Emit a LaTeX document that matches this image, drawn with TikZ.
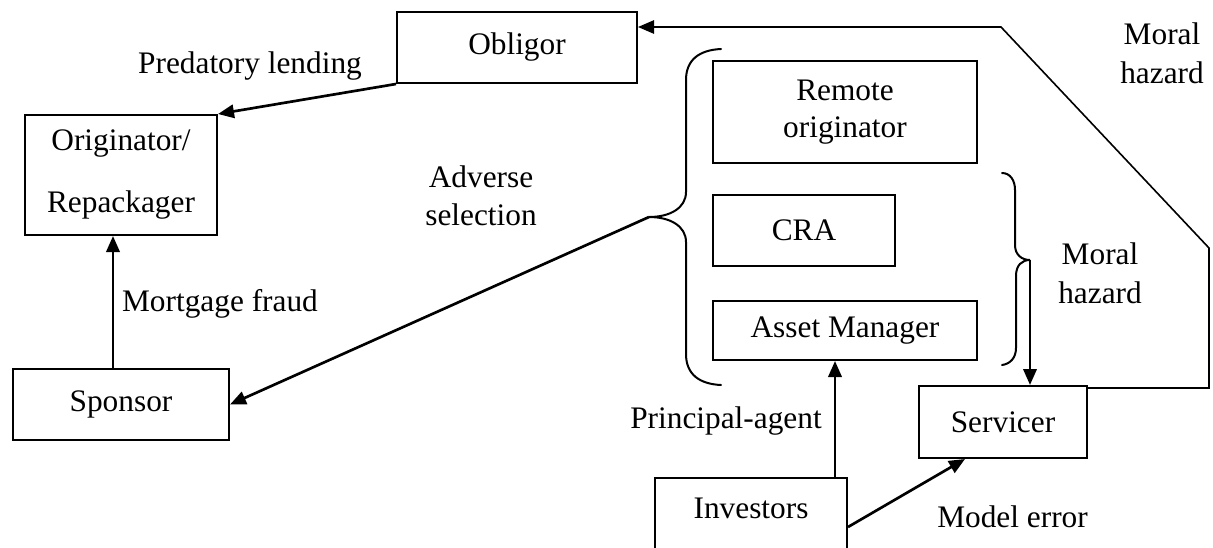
\documentclass[tikz,border=0pt]{standalone}
\usepackage{fontspec}
\setmainfont{Liberation Serif}
\usetikzlibrary{arrows.meta}
\begin{document}
\begin{tikzpicture}[x=0.75pt,y=-0.75pt,
  every node/.style={font=\fontsize{23.5}{28}\selectfont},
  box/.style={draw,line width=1.5pt,inner sep=0pt,align=center},
  lbl/.style={inner sep=0pt,anchor=base,align=center},
  arr/.style={line width=2pt,-{Triangle[length=12pt,width=10pt]}},
  link/.style={line width=1.2pt,-{Triangle[length=12pt,width=10pt]}},
  brace/.style={line width=1.5pt,line cap=round}]
\useasboundingbox (0,0) rectangle (1213,547);

% boxes
\node[box,minimum width=180pt,minimum height=53.25pt] (obligor) at (517,47.5) {Obligor};
\node[box,minimum width=144pt,minimum height=90pt] (orig) at (121,175) {Originator/\\[18.5pt]Repackager};
\node[box,minimum width=162pt,minimum height=53.25pt] (sponsor) at (121,404.5) {Sponsor};
\node[box,minimum width=198pt,minimum height=76.5pt] (remote) at (845,112) {\fontsize{23.5}{26.25}\selectfont Remote\\originator};
\node[box,minimum width=136.5pt,minimum height=53.25pt] (cra) at (804,230.5) {CRA};
\node[box,minimum width=198pt,minimum height=44.25pt] (asset) at (845,330.5) {Asset Manager};
\node[box,minimum width=126pt,minimum height=54pt] (servicer) at (1003,422) {Servicer};
\node[box,minimum width=144pt,minimum height=60pt,text depth=15pt,anchor=north] (investors) at (751,477) {Investors};

% braces grouping the agents
\coordinate (bigcusp) at (649,217);
\draw[brace] (721,49) .. controls (699,50) and (686,60) .. (686,80) -- (686,192)
  .. controls (686,208) and (670,217) .. (bigcusp)
  .. controls (670,217) and (686,226) .. (686,242) -- (686,354)
  .. controls (686,374) and (699,384) .. (721,385);
\coordinate (smallcusp) at (1030,260);
\draw[brace] (1002,173) .. controls (1010,173) and (1015,180) .. (1015,190) -- (1015,245)
  .. controls (1015,255) and (1022,260) .. (smallcusp)
  .. controls (1022,260) and (1016,265) .. (1016,276) -- (1016,348)
  .. controls (1016,358) and (1010,364) .. (1002,365);

% relations
\draw[arr] (obligor.south west) -- (orig.north east);
\draw[arr] ([xshift=-6pt]sponsor.north) -- ([xshift=-6pt]orig.south);
\draw[arr] (bigcusp) -- (sponsor.east);
\coordinate (pa) at (835,0);
\draw[arr] (investors.north -| pa) -- (asset.south -| pa);
\draw[arr] ([yshift=-6.75pt]investors.east) -- ([xshift=-28.5pt]servicer.south);
\draw[arr] (smallcusp) -- (servicer.north -| smallcusp);
\coordinate (rr) at (1209,388);
\coordinate (rb) at (1209,248);
\coordinate (rt) at (1001,27);
\draw[link] (rr -| servicer.east) -- (rr) -- (rb) -- (rt) -- (rt -| obligor.east);

% labels
\node[lbl] (l1) at (250,73) {Predatory lending};
\node[lbl] (l2) at (220,311) {Mortgage fraud};
\node[lbl] (l3) at (481,225) {Adverse\\[0.5pt]selection};
\node[lbl] (l4) at (1162,83) {Moral\\[1pt]hazard};
\node[lbl] (l5) at (1100,303) {Moral\\[1pt]hazard};
\node[lbl] (l6) at (726,428) {Principal-agent};
\node[lbl,anchor=base west] (l7) at (937,527) {Model error};
\end{tikzpicture}
\end{document}
